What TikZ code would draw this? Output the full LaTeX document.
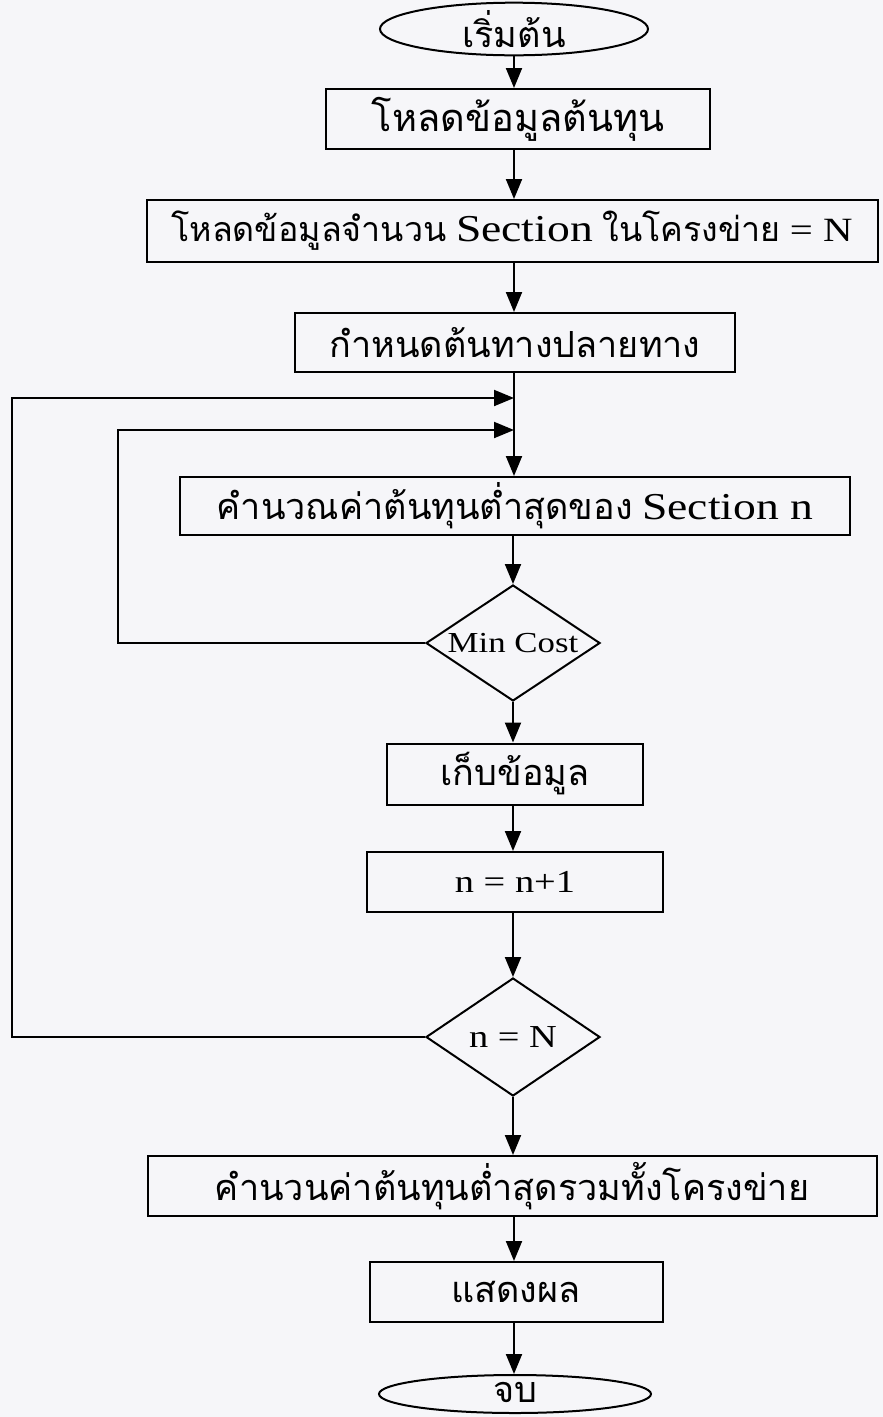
\documentclass[tikz,border=0pt]{standalone}
\usepackage{fontspec}
\usetikzlibrary{shapes.geometric,arrows.meta}
\setmainfont[FakeStretch=1.2]{Liberation Serif}
\newfontfamily\thai[Script=Thai]{Loma}
\newcommand{\thtext}[1]{{\thai\fontsize{36}{40}\selectfont #1}}
\newcommand{\latin}[1]{{\fontsize{38}{42}\selectfont #1}}
\definecolor{paper}{RGB}{246,246,249}
\begin{document}
\begin{tikzpicture}[x=1pt,y=-1pt,
  every node/.style={font=\fontsize{32}{36}\selectfont},
  stroke/.style={line width=2pt},
  proc/.style 2 args={draw,stroke,rectangle,inner sep=0pt,minimum width=#1pt,minimum height=#2pt},
  term/.style 2 args={draw,stroke,ellipse,inner sep=0pt,minimum width=#1pt,minimum height=#2pt},
  decide/.style 2 args={draw,stroke,diamond,inner sep=0pt,minimum width=#1pt,minimum height=#2pt},
  flow/.style={stroke,-{Triangle[length=20pt,width=16pt]}},
  link/.style={stroke}]
\useasboundingbox (0,0) rectangle (883,1417);
\fill[paper] (0,0) rectangle (883,1417);

% start and the set-up steps
\node[term={268}{42}] (start) at (514,29) {\thtext{เริ่มต้น}};
\node[proc={384}{60}] (load) at (518,119) {{\thai\fontsize{38}{42}\selectfont โหลดข้อมูลต้นทุน}};
\node[proc={731}{62}] (sect) at (512,231) {{\thai\fontsize{34}{38}\selectfont โหลดข้อมูลจำนวน} \latin{Section} {\thai\fontsize{34}{38}\selectfont ในโครงข่าย} {\fontsize{34}{38}\selectfont = N}};
\node[proc={440}{59}] (route) at (515,342.5) {\thtext{กำหนดต้นทางปลายทาง}};

% per-section loop (decision labels sit on top of fixed-size diamonds)
\node[decide={174}{116},label={[font=\fontsize{29}{33}\selectfont]center:Min Cost}] (mincost) at (513,643) {};
\node[proc={670}{58}] (calc) at (515,506) {\thtext{คำนวณค่าต้นทุนต่ำสุดของ} \latin{Section n}};
\node[proc={256}{61}] (keep) at (515,774) {\thtext{เก็บข้อมูล}};
\node[proc={296}{60}] (incr) at (515,882) {n = n+1};
\node[decide={174}{118},label={center:n = N}] (last) at (513,1037) {};

% totals and end
\node[proc={729}{60}] (total) at (512,1186) {\thtext{คำนวนค่าต้นทุนต่ำสุดรวมทั้งโครงข่าย}};
\node[proc={293}{60}] (show) at (516,1292) {\thtext{แสดงผล}};
\node[term={272}{38}] (stop) at (515,1394) {\raisebox{3pt}{\thtext{จบ}}};

% merge points on the main line
\coordinate (outerjoin) at (route.south |- 0,398);
\coordinate (innerjoin) at (route.south |- 0,430);
\coordinate (outerleft) at (12,398);
\coordinate (innerleft) at (118,430);

% main flow
\draw[flow] (start) -- (start.south |- load.north);
\draw[flow] (load.south -| start.south) -- (start.south |- sect.north);
\draw[flow] (sect.south -| start.south) -- (start.south |- route.north);
\draw[link] (route.south -| start.south) -- (start.south |- innerjoin);
\draw[flow] (start.south |- innerjoin) -- (start.south |- calc.north);
\draw[flow] (calc.south -| mincost.north) -- (mincost.north);
\draw[flow] (mincost.south) -- (mincost.south |- keep.north);
\draw[flow] (keep.south -| mincost.south) -- (mincost.south |- incr.north);
\draw[flow] (incr.south -| last.north) -- (last.north);
\draw[flow] (last.south) -- (last.south |- total.north);
\draw[flow] (total.south -| start.south) -- (start.south |- show.north);
\draw[flow] (show.south -| start.south) -- (start.south |- stop.north);

% loop-backs
\draw[flow] (mincost.west) -- (innerleft |- mincost.west) -- (innerleft) -- (start.south |- innerjoin);
\draw[flow] (last.west) -- (outerleft |- last.west) -- (outerleft) -- (start.south |- outerjoin);
\end{tikzpicture}
\end{document}
